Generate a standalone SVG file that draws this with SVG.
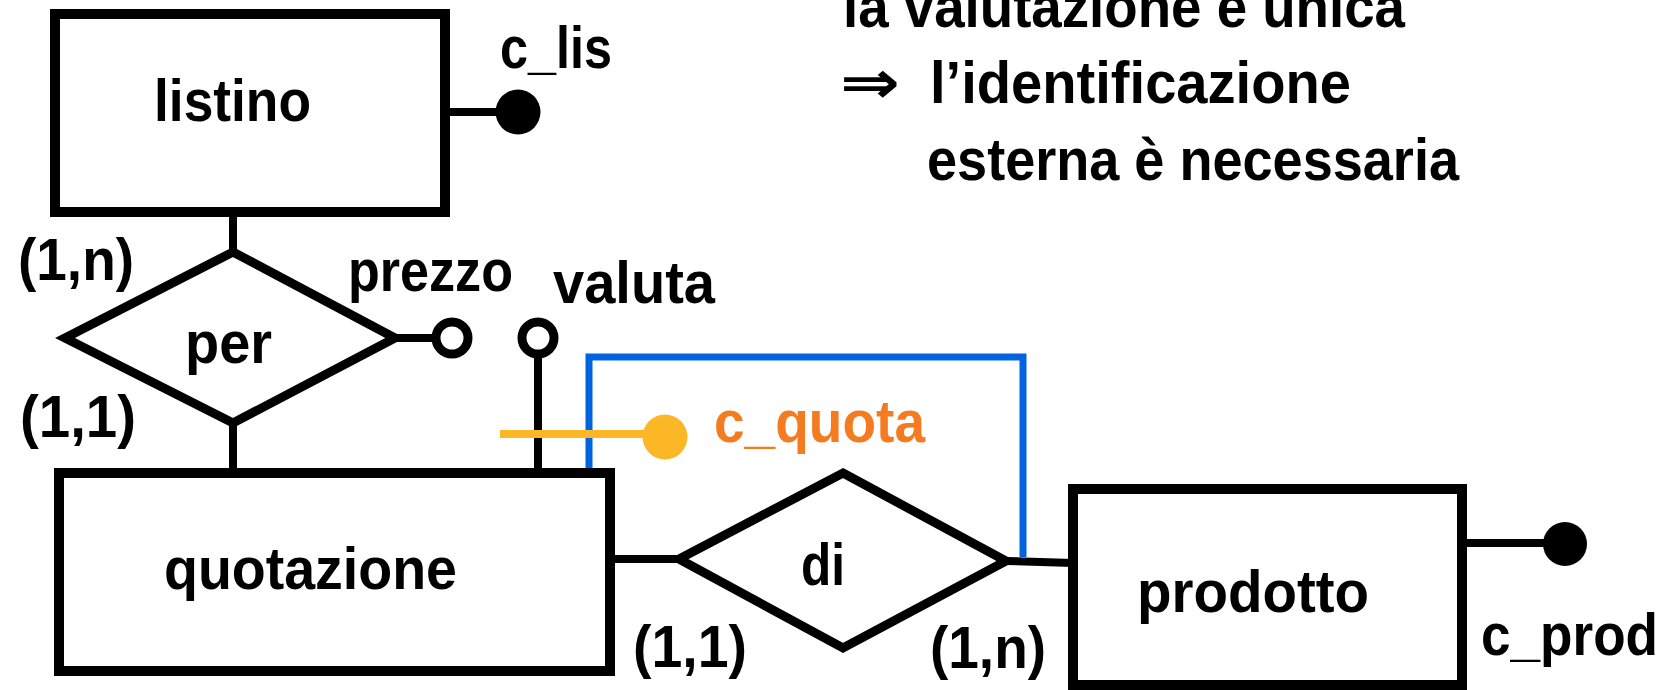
<svg xmlns="http://www.w3.org/2000/svg" width="1668" height="690" viewBox="0 0 1668 690">
<style>
text{font-family:"Liberation Sans",Arial,sans-serif;font-weight:bold;font-size:60px;fill:#000}
.ent{fill:#fff;stroke:#000;stroke-width:10}
.rel{fill:#fff;stroke:#000;stroke-width:9;stroke-linejoin:miter}
.ln{stroke:#000;stroke-width:8;fill:none}
.dot{fill:#000}
.open{fill:#fff;stroke:#000;stroke-width:9}
.blue{stroke:#0064E1;stroke-width:7;fill:none}
.yel{stroke:#FBB725;stroke-width:8;fill:none}
.orange{fill:#F47B20}
</style>
<rect width="1668" height="690" fill="#fff"/>
<g id="connectors">
<line class="ln" x1="233" y1="212" x2="233" y2="252"/>
<line class="ln" x1="233" y1="423" x2="233" y2="473"/>
<line class="ln" x1="445" y1="112" x2="505" y2="112"/>
<line class="ln" x1="395" y1="338" x2="440" y2="338"/>
<line class="ln" x1="538" y1="354" x2="538" y2="473"/>
<line class="ln" x1="610" y1="559" x2="679" y2="559"/>
<line class="ln" x1="1006" y1="561" x2="1073" y2="563"/>
<line class="ln" x1="1462" y1="543" x2="1550" y2="543"/>
</g>
<g id="listino"><rect class="ent" x="55" y="14" width="390" height="198"/><text x="154" y="121" textLength="157" lengthAdjust="spacingAndGlyphs">listino</text></g>
<g id="per"><polygon class="rel" points="233,252 395,338 233,423 65,338"/><text x="185" y="363" textLength="87" lengthAdjust="spacingAndGlyphs">per</text></g>
<g id="quotazione"><rect class="ent" x="59" y="473" width="551" height="198"/><text x="164" y="589" textLength="293" lengthAdjust="spacingAndGlyphs">quotazione</text></g>
<g id="di"><polygon class="rel" points="843,473 1006,561 843,648 679,559"/><text x="801" y="585" textLength="44" lengthAdjust="spacingAndGlyphs">di</text></g>
<g id="prodotto"><rect class="ent" x="1073" y="489" width="389" height="196"/><text x="1137" y="612" textLength="232" lengthAdjust="spacingAndGlyphs">prodotto</text></g>
<g id="c_lis"><circle class="dot" cx="518" cy="112" r="22.5"/><text x="500" y="68" textLength="112" lengthAdjust="spacingAndGlyphs">c_lis</text></g>
<g id="prezzo"><circle class="open" cx="452" cy="338" r="16"/><text x="348" y="291" textLength="165" lengthAdjust="spacingAndGlyphs">prezzo</text></g>
<g id="valuta"><circle class="open" cx="538" cy="338" r="16"/><text x="553" y="303" textLength="162" lengthAdjust="spacingAndGlyphs">valuta</text></g>
<g id="c_prod"><circle class="dot" cx="1565" cy="544" r="22"/><text x="1481" y="655" textLength="177" lengthAdjust="spacingAndGlyphs">c_prod</text></g>
<g id="c_quota">
<polyline class="blue" points="589,468 589,357 1023,357 1023,557"/>
<line class="yel" x1="500" y1="434" x2="665" y2="434"/>
<circle cx="665" cy="437" r="22.5" fill="#FBB725"/>
<text class="orange" x="714" y="442" textLength="211" lengthAdjust="spacingAndGlyphs">c_quota</text>
</g>
<g id="cardinalities">
<text x="18" y="280" textLength="116" lengthAdjust="spacingAndGlyphs">(1,n)</text>
<text x="20" y="437" textLength="116" lengthAdjust="spacingAndGlyphs">(1,1)</text>
<text x="633" y="667" textLength="114" lengthAdjust="spacingAndGlyphs">(1,1)</text>
<text x="930" y="668" textLength="116" lengthAdjust="spacingAndGlyphs">(1,n)</text>
</g>
<g id="note">
<text x="843" y="27" textLength="562" lengthAdjust="spacingAndGlyphs">la valutazione è unica</text>
<text x="840" y="103" textLength="60" lengthAdjust="spacingAndGlyphs" style="font-family:'DejaVu Sans',sans-serif;font-weight:bold">⇒</text>
<text x="930" y="103" textLength="421" lengthAdjust="spacingAndGlyphs">l’identificazione</text>
<text x="927" y="180" textLength="532" lengthAdjust="spacingAndGlyphs">esterna è necessaria</text>
</g>
</svg>
